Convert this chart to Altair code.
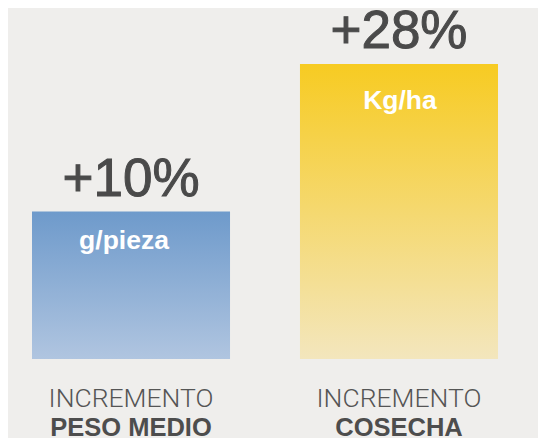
import altair as alt
import pandas as pd

categories = ["PESO MEDIO", "COSECHA"]
upper_labels = ["INCREMENTO", "INCREMENTO"]
pct_labels = ["+10%", "+28%"]
unit_labels = ["g/pieza", "Kg/ha"]
bar_heights = [50, 100]  # relative visual bar heights

df = pd.DataFrame({
    "cat": categories,
    "upper": upper_labels,
    "pct": pct_labels,
    "unit": unit_labels,
    "h": bar_heights,
})

x_enc = alt.X("cat:N", sort=categories, axis=None,
              scale=alt.Scale(range=[24, 490], paddingInner=0.261, paddingOuter=0))
y_enc = alt.Y("h:Q", axis=None, scale=alt.Scale(domain=[0, 100], range=[351, 56]))

base = alt.Chart(df)

blue = alt.LinearGradient(gradient="linear", x1=0, x2=0, y1=0, y2=1, stops=[
    alt.GradientStop(color="#6e9acb", offset=0),
    alt.GradientStop(color="#b0c5e0", offset=1)])
yellow = alt.LinearGradient(gradient="linear", x1=0, x2=0, y1=0, y2=1, stops=[
    alt.GradientStop(color="#f7cb22", offset=0),
    alt.GradientStop(color="#f3e6bd", offset=1)])

bar1 = base.transform_filter(alt.datum.cat == categories[0]).mark_bar(color=blue).encode(x=x_enc, y=y_enc)
bar2 = base.transform_filter(alt.datum.cat == categories[1]).mark_bar(color=yellow).encode(x=x_enc, y=y_enc)

pct = base.mark_text(font="Liberation Sans", fontSize=53, color="#4a4a4a",
                     stroke="#4a4a4a", strokeWidth=1.0,
                     baseline="alphabetic", dy=-16).encode(x=x_enc, y=y_enc, text="pct:N")

unit1 = base.transform_filter(alt.datum.cat == categories[0]).mark_text(
    font="Liberation Sans", fontWeight="bold", fontSize=26.5, color="white",
    baseline="alphabetic", dy=37, dx=-7).encode(x=x_enc, y=y_enc, text="unit:N")
unit2 = base.transform_filter(alt.datum.cat == categories[1]).mark_text(
    font="Liberation Sans", fontWeight="bold", fontSize=26.5, color="white",
    baseline="alphabetic", dy=45, dx=1).encode(x=x_enc, y=y_enc, text="unit:N")

upper = base.mark_text(font="Roboto", fontWeight=300, fontSize=26.5, color="#555555",
                       baseline="alphabetic", dy=48).encode(x=x_enc, y=alt.datum(0), text="upper:N")
lower = base.mark_text(font="Liberation Sans", fontWeight="bold", fontSize=25.5, color="#4d4d4d",
                       baseline="alphabetic", dy=77).encode(x=x_enc, y=alt.datum(0), text="cat:N")

chart = alt.layer(bar1, bar2, pct, unit1, unit2, upper, lower).properties(
    width=530, height=430, padding=0, autosize=alt.AutoSizeParams(type="none"),
    background="#efeeec"
).configure_view(stroke=None)

chart.save("out.html", embed_options={"renderer": "svg", "actions": False})
